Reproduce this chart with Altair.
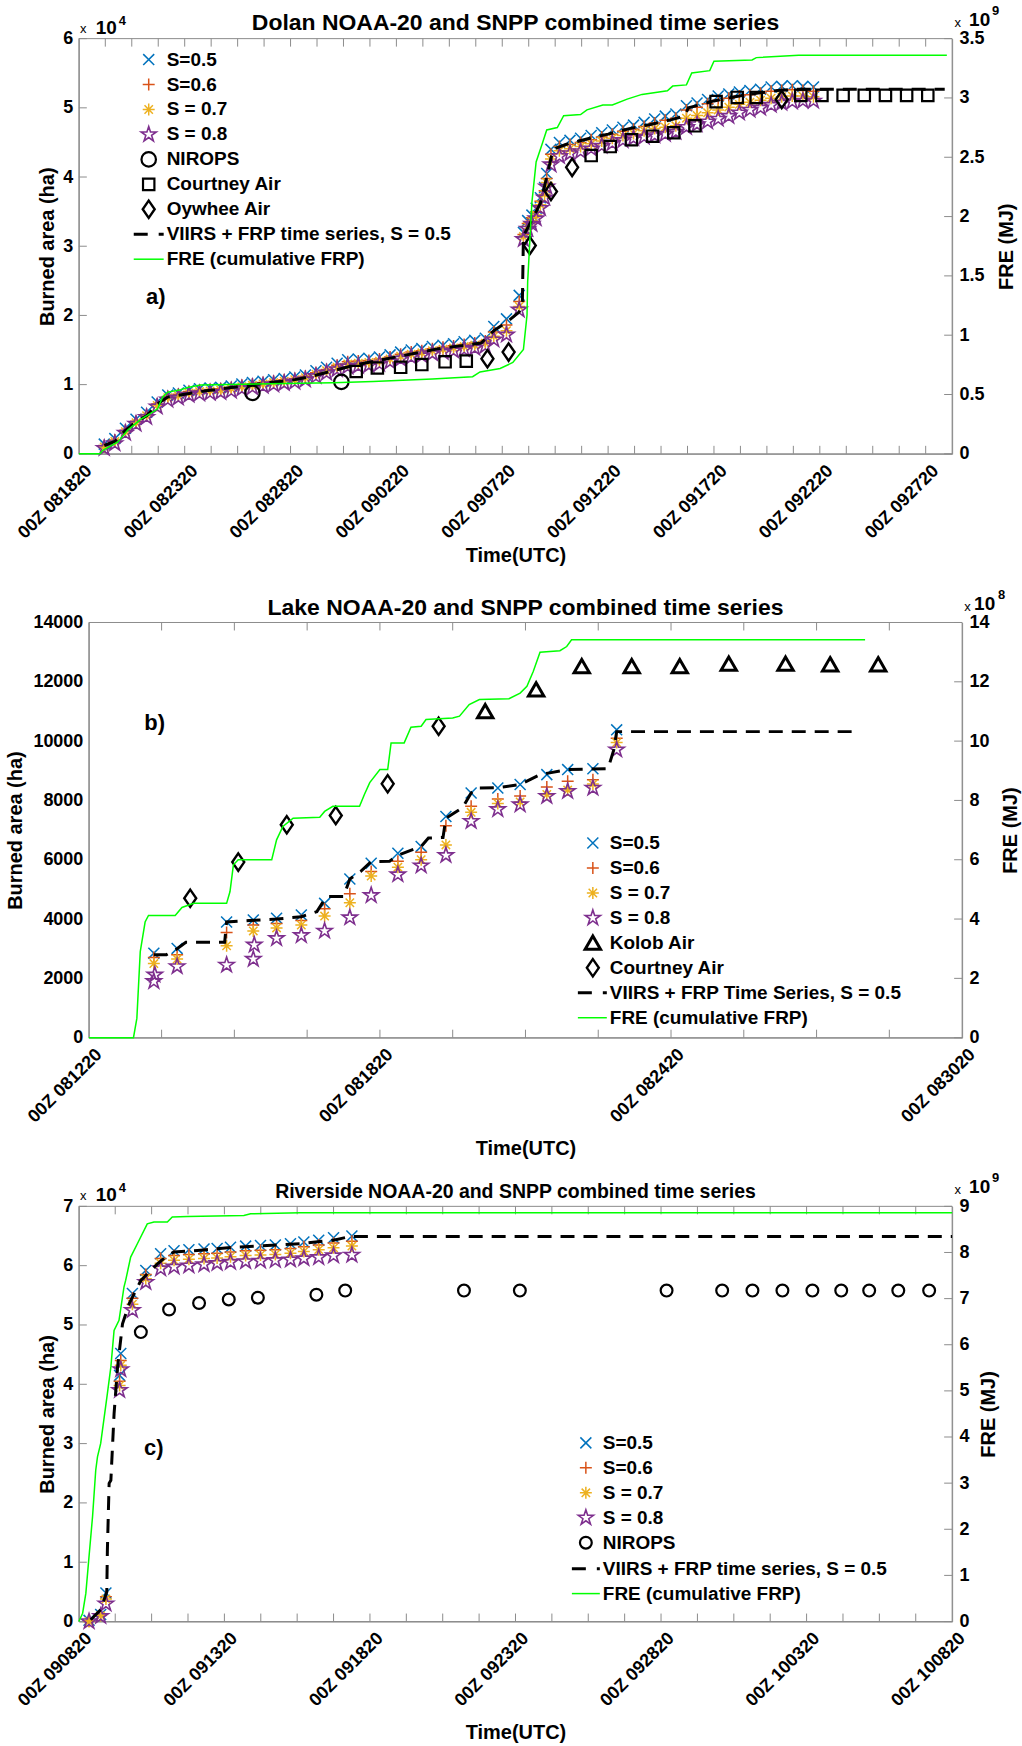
import altair as alt
import pandas as pd

# ====================== DATA ======================
# ---- Panel a: Dolan (x = days since 00Z 08/18/20; area in 1e4 ha; FRE in 1e9 MJ)
A_XLABELS = ["00Z 081820", "00Z 082320", "00Z 082820", "00Z 090220", "00Z 090720",
             "00Z 091220", "00Z 091720", "00Z 092220", "00Z 092720"]
A_T = [1.2, 1.7, 2.2, 2.7, 3.2, 3.7, 4.2, 4.7, 5.2, 5.7, 6.2, 6.7, 7.2, 7.7, 8.2, 8.7, 9.2, 9.7,
       10.2, 10.7, 11.2, 11.7, 12.2, 12.7, 13.2, 13.7, 14.2, 14.7, 15.2, 15.7, 16.2, 16.7, 17.2,
       17.7, 18.2, 18.7, 19.2, 19.6, 20.2, 20.8, 21.0, 21.2, 21.4, 21.6, 21.8, 22.0, 22.1, 22.3,
       22.7, 23.2, 23.7, 24.2, 24.7, 25.2, 25.7, 26.2, 26.7, 27.2, 27.7, 28.2, 28.7, 29.2, 29.7,
       30.2, 30.7, 31.2, 31.7, 32.2, 32.7, 33.2, 33.7, 34.2, 34.7]
A_S05 = [0.14, 0.22, 0.37, 0.50, 0.60, 0.75, 0.85, 0.88, 0.92, 0.94, 0.95, 0.96, 0.98, 1.01, 1.03,
         1.05, 1.07, 1.09, 1.11, 1.14, 1.20, 1.25, 1.31, 1.36, 1.37, 1.38, 1.40, 1.43, 1.47, 1.50,
         1.52, 1.55, 1.57, 1.59, 1.62, 1.64, 1.67, 1.84, 1.95, 2.29, 3.20, 3.37, 3.45, 3.55, 3.70,
         3.85, 4.05, 4.40, 4.50, 4.53, 4.56, 4.60, 4.64, 4.68, 4.72, 4.75, 4.79, 4.84, 4.88, 4.91,
         5.03, 5.07, 5.12, 5.17, 5.20, 5.23, 5.25, 5.27, 5.30, 5.31, 5.32, 5.31, 5.30]
A_S06 = [0.12, 0.20, 0.34, 0.47, 0.57, 0.72, 0.83, 0.86, 0.90, 0.92, 0.93, 0.94, 0.96, 0.99, 1.01,
         1.03, 1.05, 1.07, 1.09, 1.12, 1.17, 1.22, 1.28, 1.33, 1.34, 1.35, 1.37, 1.40, 1.44, 1.47,
         1.49, 1.52, 1.54, 1.56, 1.58, 1.60, 1.63, 1.76, 1.86, 2.20, 3.17, 3.33, 3.41, 3.50, 3.65,
         3.80, 3.98, 4.33, 4.44, 4.47, 4.50, 4.54, 4.58, 4.62, 4.66, 4.69, 4.73, 4.78, 4.82, 4.85,
         4.97, 5.01, 5.06, 5.11, 5.14, 5.17, 5.19, 5.21, 5.24, 5.25, 5.26, 5.25, 5.24]
A_S07 = [0.10, 0.18, 0.32, 0.45, 0.55, 0.70, 0.81, 0.84, 0.88, 0.90, 0.91, 0.92, 0.94, 0.97, 0.99,
         1.01, 1.03, 1.05, 1.07, 1.10, 1.15, 1.20, 1.25, 1.30, 1.31, 1.32, 1.34, 1.37, 1.41, 1.44,
         1.46, 1.49, 1.51, 1.53, 1.55, 1.57, 1.60, 1.70, 1.78, 2.13, 3.14, 3.29, 3.37, 3.45, 3.60,
         3.75, 3.92, 4.26, 4.38, 4.41, 4.44, 4.48, 4.52, 4.56, 4.60, 4.63, 4.67, 4.70, 4.72, 4.74,
         4.85, 4.89, 4.93, 4.97, 5.01, 5.05, 5.08, 5.11, 5.14, 5.16, 5.17, 5.17, 5.16]
A_S08 = [0.08, 0.15, 0.30, 0.43, 0.53, 0.68, 0.78, 0.81, 0.85, 0.87, 0.88, 0.89, 0.91, 0.94, 0.96,
         0.98, 1.00, 1.02, 1.04, 1.07, 1.12, 1.17, 1.22, 1.26, 1.27, 1.28, 1.30, 1.33, 1.37, 1.40,
         1.42, 1.45, 1.47, 1.49, 1.51, 1.53, 1.56, 1.65, 1.72, 2.08, 3.10, 3.25, 3.32, 3.40, 3.55,
         3.70, 3.86, 4.18, 4.30, 4.34, 4.37, 4.41, 4.45, 4.49, 4.53, 4.56, 4.58, 4.60, 4.62, 4.65,
         4.72, 4.76, 4.80, 4.84, 4.88, 4.93, 4.97, 5.00, 5.04, 5.07, 5.09, 5.10, 5.10]
A_DASH_T = [1.2, 1.7, 2.2, 2.7, 3.2, 3.7, 4.2, 5.0, 6.0, 7.0, 8.0, 9.0, 10.0, 11.0, 12.0, 13.0,
            14.0, 15.0, 16.0, 17.0, 18.0, 19.0, 19.6, 20.2, 20.8, 20.95, 21.0, 21.4, 21.8, 22.1,
            22.4, 23.0, 24.0, 25.0, 26.0, 27.0, 28.0, 28.6, 28.8, 30.0, 31.0, 32.0, 33.0, 34.0,
            35.0, 40.9]
A_DASH = [0.12, 0.18, 0.34, 0.46, 0.55, 0.72, 0.82, 0.86, 0.91, 0.95, 0.99, 1.03, 1.06, 1.12, 1.20,
          1.28, 1.34, 1.40, 1.46, 1.52, 1.56, 1.60, 1.78, 1.90, 2.05, 2.20, 3.15, 3.38, 3.62, 4.00,
          4.40, 4.47, 4.55, 4.62, 4.70, 4.76, 4.83, 4.88, 5.00, 5.10, 5.16, 5.21, 5.25, 5.27, 5.27,
          5.27]
A_FRE_T = [0, 1.0, 1.13, 1.84, 2.31, 2.92, 3.39, 3.72, 3.96, 4.20, 4.81, 5.14, 5.75, 12.0, 13.9,
           16.7, 18.6, 18.95, 19.9, 20.5, 21.0, 21.17, 21.2, 21.4, 21.6, 21.9, 22.1, 22.6, 22.9,
           23.7, 24.0, 24.75, 25.2, 25.9, 26.6, 27.8, 28.05, 28.7, 28.95, 29.8, 30.0, 31.8, 32.0,
           34.0, 41.0]
A_FRE = [0, 0, 0.03, 0.10, 0.20, 0.29, 0.34, 0.38, 0.48, 0.52, 0.54, 0.56, 0.58, 0.60, 0.61, 0.63,
         0.65, 0.69, 0.72, 0.77, 0.88, 1.17, 1.45, 2.12, 2.46, 2.62, 2.73, 2.75, 2.85, 2.86, 2.90,
         2.94, 2.94, 2.99, 3.03, 3.06, 3.10, 3.11, 3.21, 3.23, 3.31, 3.32, 3.34, 3.36, 3.36]
A_NIR_T = [8.2, 12.4]
A_NIR = [0.88, 1.04]
A_CA_T = [13.1, 14.1, 15.2, 16.2, 17.3, 18.3, 24.2, 25.1, 26.1, 27.1, 28.1, 29.1, 30.1, 31.1, 32.0,
          34.1, 35.1, 36.1, 37.1, 38.1, 39.1, 40.1]
A_CA = [1.19, 1.24, 1.25, 1.29, 1.33, 1.34, 4.31, 4.44, 4.54, 4.59, 4.64, 4.74, 5.09, 5.15, 5.15,
        5.18, 5.18, 5.18, 5.18, 5.18, 5.18, 5.18]
A_OA_T = [19.3, 20.3, 21.3, 22.3, 23.3, 33.2]
A_OA = [1.375, 1.47, 3.01, 3.79, 4.14, 5.12]

# ---- Panel b: Lake (x = days since 00Z 08/12/20; area in ha; FRE in 1e8 MJ)
B_XLABELS = ["00Z 081220", "00Z 081820", "00Z 082420", "00Z 083020"]
B_T = [1.34, 1.82, 2.84, 3.39, 3.87, 4.38, 4.86, 5.38, 5.82, 6.37, 6.85, 7.36, 7.88, 8.43, 8.89,
       9.44, 9.87, 10.39, 10.88]
B_S05 = [2850, 3010, 3900, 3970, 4030, 4140, 4530, 5350, 5880, 6220, 6450, 7460, 8250, 8420, 8540,
         8870, 9040, 9070, 10380]
B_S06 = [2700, 2800, 3550, 3800, 3850, 3950, 4350, 4850, 5600, 5950, 6250, 7150, 7800, 8050, 8150,
         8450, 8650, 8700, 10100]
B_S07 = [2500, 2650, 3100, 3600, 3700, 3800, 4100, 4550, 5450, 5750, 6000, 6500, 7600, 7900, 7950,
         8200, 8350, 8550, 9950]
B_T8 = [1.34, 1.82, 2.84, 3.39, 3.87, 4.38, 4.86, 5.38, 5.82, 6.37, 6.85, 7.36, 7.88, 8.43, 8.89,
        9.44, 9.87, 10.39, 10.88, 1.36, 3.41]
B_S08 = [1900, 2400, 2450, 2650, 3350, 3450, 3600, 4050, 4800, 5500, 5800, 6150, 7300, 7700, 7860,
         8140, 8310, 8420, 9710, 2120, 3130]
B_DASH_T = [1.34, 1.6, 1.82, 2.0, 2.8, 2.84, 3.3, 3.87, 4.38, 4.7, 4.9, 5.25, 5.38, 5.6, 5.82, 6.2,
            6.37, 6.85, 7.0, 7.3, 7.36, 7.7, 7.88, 8.0, 8.43, 8.89, 9.3, 9.5, 9.87, 10.3, 10.7,
            10.82, 10.88, 15.9]
B_DASH = [2800, 2800, 3000, 3220, 3220, 3900, 3950, 4000, 4080, 4250, 4760, 4760, 5350, 5600, 5940,
          5950, 6150, 6450, 6730, 6750, 7400, 7750, 8250, 8420, 8430, 8540, 8870, 8930, 9040, 9060,
          9070, 9700, 10320, 10320]
B_FRE_T = [0, 0.92, 0.99, 1.06, 1.16, 1.23, 1.78, 1.92, 2.16, 2.84, 2.91, 2.98, 3.08, 3.77, 3.87,
           4.0, 4.21, 4.76, 4.86, 5.03, 5.58, 5.68, 5.79, 6.0, 6.16, 6.23, 6.5, 6.64, 6.85, 6.95,
           7.5, 7.64, 7.84, 8.05, 8.66, 8.89, 9.03, 9.16, 9.3, 9.71, 9.85, 9.95, 10.53, 16.0]
B_FRE = [0, 0, 0.65, 2.9, 3.9, 4.12, 4.12, 4.39, 4.53, 4.53, 4.93, 5.83, 6.0, 6.0, 6.67, 7.12, 7.4,
         7.43, 7.63, 7.8, 7.8, 8.2, 8.6, 9.04, 9.04, 9.94, 9.94, 10.47, 10.5, 10.73, 10.78, 10.84,
         11.23, 11.4, 11.43, 11.62, 11.85, 12.35, 13.0, 13.05, 13.19, 13.42, 13.42, 13.42]
B_KA_T = [8.17, 9.22, 10.16, 11.19, 12.18, 13.19, 14.36, 15.28, 16.27]
B_KA = [11000, 11730, 12520, 12520, 12520, 12600, 12600, 12580, 12580]
B_CA_T = [2.09, 3.08, 4.08, 5.09, 6.16, 7.21]
B_CA = [4700, 5920, 7180, 7490, 8560, 10500]

# ---- Panel c: Riverside (x = days since 00Z 09/08/20; area in 1e4 ha; FRE in 1e9 MJ)
C_XLABELS = ["00Z 090820", "00Z 091320", "00Z 091820", "00Z 092320", "00Z 092820",
             "00Z 100320", "00Z 100820"]
C_T = [0.35, 0.75, 0.93, 1.40, 1.44, 1.84, 2.30, 2.81, 3.27, 3.78, 4.30, 4.75, 5.21, 5.73, 6.24,
       6.75, 7.27, 7.73, 8.24, 8.75, 9.38]
C_S05 = [0.02, 0.12, 0.48, 4.15, 4.52, 5.53, 5.92, 6.20, 6.25, 6.27, 6.28, 6.29, 6.31, 6.33, 6.34,
         6.35, 6.37, 6.40, 6.43, 6.47, 6.50]
C_S06 = [0.01, 0.11, 0.42, 4.05, 4.40, 5.45, 5.85, 6.12, 6.17, 6.19, 6.20, 6.21, 6.23, 6.25, 6.26,
         6.27, 6.29, 6.32, 6.35, 6.38, 6.41]
C_S07 = [0.0, 0.10, 0.38, 3.98, 4.32, 5.35, 5.78, 6.04, 6.09, 6.11, 6.12, 6.13, 6.15, 6.17, 6.18,
         6.19, 6.21, 6.24, 6.27, 6.30, 6.33]
C_S08 = [0.0, 0.09, 0.30, 3.90, 4.25, 5.25, 5.72, 5.95, 5.98, 6.00, 6.02, 6.04, 6.06, 6.07, 6.08,
         6.09, 6.10, 6.12, 6.14, 6.17, 6.18]
C_DASH_T = [0.41, 0.75, 0.87, 0.96, 0.98, 1.04, 1.10, 1.21, 1.33, 1.50, 1.73, 2.13, 2.47, 2.70,
            3.04, 3.27, 4.18, 5.33, 6.47, 7.61, 8.75, 9.21, 9.44, 30.0]
C_DASH = [0.03, 0.20, 0.37, 0.50, 1.20, 2.33, 2.38, 3.50, 4.29, 5.02, 5.36, 5.75, 5.92, 6.03, 6.17,
          6.23, 6.26, 6.31, 6.34, 6.37, 6.43, 6.48, 6.49, 6.49]
C_FRE_T = [0, 0.13, 0.24, 0.35, 0.47, 0.58, 0.64, 0.75, 0.98, 1.10, 1.21, 1.38, 1.55, 1.61, 1.78,
           2.01, 2.35, 2.58, 3.04, 3.21, 3.73, 5.67, 5.90, 7.60, 30.0]
C_FRE = [0, 0.18, 0.61, 1.41, 2.27, 3.28, 3.57, 3.86, 4.94, 5.52, 6.31, 6.53, 7.25, 7.40, 7.90,
         8.19, 8.62, 8.66, 8.66, 8.77, 8.78, 8.80, 8.84, 8.86, 8.86]
C_NIR_T = [2.13, 3.10, 4.13, 5.15, 6.15, 8.16, 9.15, 13.23, 15.15, 20.19, 22.10, 23.14, 24.17,
           25.20, 26.19, 27.15, 28.15, 29.21]
C_NIR = [4.88, 5.26, 5.37, 5.43, 5.46, 5.51, 5.58, 5.58, 5.58, 5.58, 5.58, 5.58, 5.58, 5.58, 5.58,
         5.58, 5.58, 5.58]

# ====================== STYLE ======================
FONT = "Liberation Sans"
GREY = "#8c8c8c"
BLUE, ORANGE, YELLOW, PURPLE, GREEN = "#0072BD", "#D95319", "#EDB120", "#7E2F8E", "#00FF00"
X_PATH = "M-1,-1L1,1M-1,1L1,-1"
PLUS_PATH = "M-1,0L1,0M0,-1L0,1"
AST_PATH = "M-1,0L1,0M0,-1L0,1M-0.7,-0.7L0.7,0.7M-0.7,0.7L0.7,-0.7"
STAR_PATH = ("M0,-1L0.225,-0.309L0.951,-0.309L0.363,0.118L0.588,0.809L0,0.382L-0.588,0.809"
             "L-0.363,0.118L-0.951,-0.309L-0.225,-0.309Z")
DIAMOND_PATH = "M0,-1.45L1,0L0,1.45L-1,0Z"
TRI_PATH = "M0,-1L1.1,0.9L-1.1,0.9Z"

SYM = {
    "S05": dict(shape=X_PATH, color=BLUE, size=121, sw=1.5),
    "S06": dict(shape=PLUS_PATH, color=ORANGE, size=144, sw=1.5),
    "S07": dict(shape=AST_PATH, color=YELLOW, size=144, sw=1.5),
    "S08": dict(shape=STAR_PATH, color=PURPLE, size=256, sw=1.6),
    "CIRC": dict(shape="circle", color="black", size=210, sw=2.2),
    "CIRC_S": dict(shape="circle", color="black", size=140, sw=2.2),
    "SQ": dict(shape="square", color="black", size=130, sw=2.2),
    "DIA": dict(shape=DIAMOND_PATH, color="black", size=144, sw=2.4),
    "TRI": dict(shape=TRI_PATH, color="black", size=196, sw=3.0),
}

W, H = 875, 416
DUMMY = pd.DataFrame({"k": [0]})


def pts(t, v, X, Y, key):
    s = SYM[key]
    return alt.Chart(pd.DataFrame({"t": t, "v": v})).mark_point(
        shape=s["shape"], filled=False, size=s["size"], strokeWidth=s["sw"],
        color=s["color"], opacity=1).encode(x=X, y=Y)


def txt(text, x, y, size, weight="bold", align="left", baseline="middle"):
    return alt.Chart(DUMMY).mark_text(
        text=text, font=FONT, fontSize=size, fontWeight=weight, align=align,
        baseline=baseline, color="black").encode(x=alt.value(x), y=alt.value(y))


def legend(entries, xs, xt, ys, lx0, lx1):
    out = []
    for (kind, label), y in zip(entries, ys):
        if kind == "DASH":
            out.append(alt.Chart(DUMMY).mark_rule(color="black", strokeWidth=3, strokeDash=[14, 11])
                       .encode(x=alt.value(lx0), x2=alt.value(lx1), y=alt.value(y)))
        elif kind == "GREEN":
            out.append(alt.Chart(DUMMY).mark_rule(color=GREEN, strokeWidth=1.5)
                       .encode(x=alt.value(lx0), x2=alt.value(lx1), y=alt.value(y)))
        else:
            s = SYM[kind]
            out.append(alt.Chart(DUMMY).mark_point(
                shape=s["shape"], filled=False, size=s["size"], strokeWidth=s["sw"],
                color=s["color"], opacity=1).encode(x=alt.value(xs), y=alt.value(y)))
        out.append(txt(label, xt, y, 19))
    return out


def panel(P):
    x0 = P["x0"]           # left edge of the drawn box inside the view
    VW = W + x0            # view width
    step = P["xstep"]
    expr = "[" + ",".join("'%s'" % s for s in P["xlabels"]) + "][round(datum.value/%s)]" % step
    xaxis = alt.Axis(values=[i * step for i in range(len(P["xlabels"]))], labelExpr=expr,
                     labelAngle=315, labelAlign="right", labelBaseline="middle",
                     labelPadding=14, labelOffset=10, labelFlush=False, labelOverlap=False,
                     labelBound=False, ticks=False, tickSize=0, domainColor=GREY, grid=False,
                     labelFont=FONT, labelFontSize=18, labelFontWeight="bold", labelColor="black",
                     title="Time(UTC)", titleFont=FONT, titleFontSize=20, titleFontWeight="bold",
                     titleColor="black", titleX=x0 + W / 2, titleY=P["xtitle_y"],
                     titleAlign="center", titleBaseline="middle")
    laxis = alt.Axis(values=P["lticks"], format=P["lfmt"], orient="left", ticks=False, tickSize=0,
                     offset=-x0, labelPadding=6, domainColor=GREY, grid=False, labelFont=FONT,
                     labelFontSize=18, labelFontWeight="bold", labelColor="black",
                     title="Burned area (ha)", titleFont=FONT, titleFontSize=20,
                     titleFontWeight="bold", titleColor="black", titleX=P["ltitle_x"],
                     titleY=H / 2, titleAngle=270, titleAlign="center", titleBaseline="middle")
    raxis = alt.Axis(values=P["rticks"], format=P["rfmt"], orient="right", ticks=False, tickSize=0,
                     labelPadding=7, domainColor=GREY, grid=False, labelFont=FONT,
                     labelFontSize=18, labelFontWeight="bold", labelColor="black",
                     title="FRE (MJ)", titleFont=FONT, titleFontSize=20, titleFontWeight="bold",
                     titleColor="black", titleX=P["rtitle_x"], titleY=H / 2, titleAngle=270,
                     titleAlign="center", titleBaseline="middle")
    X = alt.X("t:Q", scale=alt.Scale(domain=P["xdom"], range=[x0, VW], nice=False, zero=False),
              axis=xaxis)
    YL = alt.Y("v:Q", scale=alt.Scale(domain=P["ldom"], nice=False, zero=False), axis=laxis)
    YR = alt.Y("v:Q", scale=alt.Scale(domain=P["rdom"], nice=False, zero=False), axis=raxis)

    left = []
    # plot frame
    left.append(alt.Chart(DUMMY).mark_rect(filled=False, stroke=GREY, strokeWidth=1).encode(
        x=alt.value(x0), x2=alt.value(VW), y=alt.value(0), y2=alt.value(H)))
    # inward minor ticks (bottom and top of the box) and left ticks
    xt = pd.DataFrame({"t": P["minor"]})
    left.append(alt.Chart(xt).mark_rule(color=GREY).encode(x=X, y=alt.value(H), y2=alt.value(H - 8)))
    left.append(alt.Chart(xt).mark_rule(color=GREY).encode(x=X, y=alt.value(0), y2=alt.value(8)))
    if P["left_ticks"]:
        left.append(alt.Chart(pd.DataFrame({"v": P["lticks"]})).mark_rule(color=GREY)
                    .encode(y=YL, x=alt.value(x0), x2=alt.value(x0 + 8)))
    for key, (t, v) in P["series"]:
        left.append(pts(t, v, X, YL, key))
    for key, (t, v) in P["obs"]:
        left.append(pts(t, v, X, YL, key))
    dt, dv = P["dash"]
    left.append(alt.Chart(pd.DataFrame({"t": dt, "v": dv})).mark_line(
        color="black", strokeWidth=3, strokeDash=[14, 9]).encode(x=X, y=YL))
    # text decorations
    left.append(txt(P["title"], x0 + W / 2, P["title_y"], P["title_size"], align="center",
                    baseline="alphabetic"))
    left.append(txt(P["tag"], x0 + P["tag_xy"][0], P["tag_xy"][1], 22, align="center"))
    if P["lexp"]:
        left.append(txt("x", x0 + 4.5, -10, 13, weight="normal", align="center"))
        left.append(txt("10", x0 + 17, -11, 19))
        left.append(txt(P["lexp"], x0 + 40, -18, 13))
    rx = P["rexp_x"]
    left.append(txt("x", VW + rx[0], -16, 13, weight="normal", align="center"))
    left.append(txt("10", VW + rx[1], -19, 19))
    left.append(txt(P["rexp"], VW + rx[2], -28, 13))
    left += legend(P["legend"], x0 + P["leg_xs"], x0 + P["leg_xt"], P["leg_ys"],
                   x0 + P["leg_l0"], x0 + P["leg_l1"])
    for (ax, ay) in P.get("anchors", []):
        left.append(alt.Chart(DUMMY).mark_rect(opacity=0).encode(
            x=alt.value(ax), x2=alt.value(ax + 1), y=alt.value(ay), y2=alt.value(ay + 1)))

    ft, fv = P["fre"]
    right = [
        alt.Chart(pd.DataFrame({"v": P["rticks"]})).mark_rule(color=GREY)
        .encode(y=YR, x=alt.value(VW - 8), x2=alt.value(VW)),
        alt.Chart(pd.DataFrame({"t": ft, "v": fv})).mark_line(color=GREEN, strokeWidth=1.5)
        .encode(x=X, y=YR),
    ]
    return alt.layer(alt.layer(*left), alt.layer(*right)).resolve_scale(y="independent") \
        .properties(width=VW, height=H, view=alt.ViewBackground(stroke="transparent"))


PA = dict(
    x0=0, xdom=[0, 41.25], xstep=5, xlabels=A_XLABELS, minor=[1.25 * i for i in range(1, 33)],
    xtitle_y=102, ldom=[0, 6], lticks=[0, 1, 2, 3, 4, 5, 6], lfmt="d", ltitle_x=-31,
    rdom=[0, 3.5], rticks=[0, 0.5, 1, 1.5, 2, 2.5, 3, 3.5], rfmt="~g", rtitle_x=54,
    left_ticks=True,
    series=[("S05", (A_T, A_S05)), ("S06", (A_T, A_S06)), ("S07", (A_T, A_S07)),
            ("S08", (A_T, A_S08))],
    obs=[("CIRC", (A_NIR_T, A_NIR)), ("SQ", (A_CA_T, A_CA)), ("DIA", (A_OA_T, A_OA))],
    dash=(A_DASH_T, A_DASH), fre=(A_FRE_T, A_FRE),
    title="Dolan NOAA-20 and SNPP combined time series", title_y=-9, title_size=23,
    tag="a)", tag_xy=(77, 259), lexp="4", rexp="9", rexp_x=(5.5, 17, 40),
    legend=[("S05", "S=0.5"), ("S06", "S=0.6"), ("S07", "S = 0.7"), ("S08", "S = 0.8"),
            ("CIRC", "NIROPS"), ("SQ", "Courtney Air"), ("DIA", "Oywhee Air"),
            ("DASH", "VIIRS + FRP time series, S = 0.5"), ("GREEN", "FRE (cumulative FRP)")],
    leg_xs=70, leg_xt=88, leg_ys=[21, 46, 71, 96, 121, 146, 171, 196, 221], leg_l0=55, leg_l1=85,
    anchors=[(-78, -36)],
)
PB = dict(
    x0=10, xdom=[0, 18], xstep=6, xlabels=B_XLABELS, minor=[1.5 * i for i in range(1, 12)],
    xtitle_y=111, ldom=[0, 14000], lticks=[0, 2000, 4000, 6000, 8000, 10000, 12000, 14000],
    lfmt="d", ltitle_x=-73,
    rdom=[0, 14], rticks=[0, 2, 4, 6, 8, 10, 12, 14], rfmt="d", rtitle_x=48, left_ticks=False,
    series=[("S05", (B_T, B_S05)), ("S06", (B_T, B_S06)), ("S07", (B_T, B_S07)),
            ("S08", (B_T8, B_S08))],
    obs=[("TRI", (B_KA_T, B_KA)), ("DIA", (B_CA_T, B_CA))],
    dash=(B_DASH_T, B_DASH), fre=(B_FRE_T, B_FRE),
    title="Lake NOAA-20 and SNPP combined time series", title_y=-8, title_size=23,
    tag="b)", tag_xy=(66, 101), lexp=None, rexp="8", rexp_x=(5.5, 12, 36),
    legend=[("S05", "S=0.5"), ("S06", "S=0.6"), ("S07", "S = 0.7"), ("S08", "S = 0.8"),
            ("TRI", "Kolob Air"), ("DIA", "Courtney Air"),
            ("DASH", "VIIRS + FRP Time Series, S = 0.5"), ("GREEN", "FRE (cumulative FRP)")],
    leg_xs=505, leg_xt=522, leg_ys=[221, 246, 271, 296, 321, 346, 371, 396], leg_l0=490,
    leg_l1=519,
)
PC = dict(
    x0=0, xdom=[0, 30], xstep=5, xlabels=C_XLABELS, minor=[1.25 * i for i in range(1, 24)],
    xtitle_y=111, ldom=[0, 7], lticks=[0, 1, 2, 3, 4, 5, 6, 7], lfmt="d", ltitle_x=-31,
    rdom=[0, 9], rticks=[0, 1, 2, 3, 4, 5, 6, 7, 8, 9], rfmt="d", rtitle_x=36, left_ticks=True,
    series=[("S05", (C_T, C_S05)), ("S06", (C_T, C_S06)), ("S07", (C_T, C_S07)),
            ("S08", (C_T, C_S08))],
    obs=[("CIRC_S", (C_NIR_T, C_NIR))],
    dash=(C_DASH_T, C_DASH), fre=(C_FRE_T, C_FRE),
    title="Riverside NOAA-20 and SNPP combined time series", title_y=-8, title_size=19.5,
    tag="c)", tag_xy=(75, 242), lexp="4", rexp="9", rexp_x=(5.5, 17, 40),
    legend=[("S05", "S=0.5"), ("S06", "S=0.6"), ("S07", "S = 0.7"), ("S08", "S = 0.8"),
            ("CIRC_S", "NIROPS"), ("DASH", "VIIRS + FRP time series, S = 0.5"),
            ("GREEN", "FRE (cumulative FRP)")],
    leg_xs=508, leg_xt=525, leg_ys=[237, 262, 287, 312, 337, 363, 388], leg_l0=494, leg_l1=522,
    anchors=[(943, 539)],
)

chart = alt.vconcat(panel(PA), panel(PB), panel(PC), spacing=169, bounds="flush") \
    .properties(padding=0)

chart.save("out.html", embed_options={"renderer": "svg", "actions": False})
